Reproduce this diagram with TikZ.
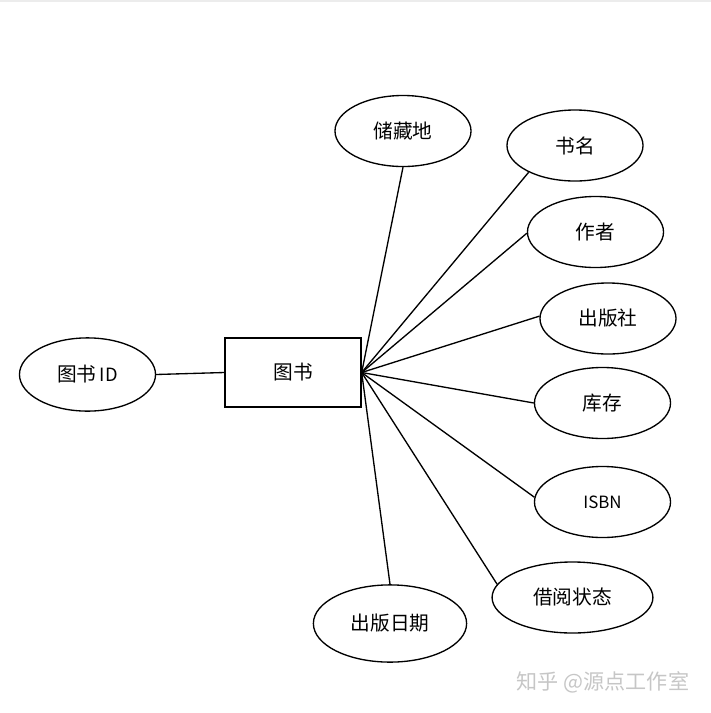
\documentclass[tikz,border=0pt]{standalone}
\usepackage{fontspec}
\setmainfont{Noto Sans CJK SC}
\usetikzlibrary{shapes.geometric, positioning}

\tikzset{
  attr/.style={ellipse, draw, line width=0.95pt, inner sep=0pt,
    minimum width=3.4cm, minimum height=1.775cm, font=\fontsize{14}{16}\selectfont},
  entity/.style={rectangle, draw, line width=0.95pt, inner sep=0pt,
    minimum width=3.4cm, minimum height=1.72cm, font=\fontsize{14}{16}\selectfont},
  link/.style={line width=0.95pt}
}

\begin{document}
\begin{tikzpicture}[x=0.025cm, y=-0.025cm]
			% Canvas
			\useasboundingbox (0,0) rectangle (711,713);
			\draw[gray!15, line width=1.2pt] (0,1) -- (711,1);
			
			% Entity
			\node[entity] (book) at (293,372.5) {图书};
			\coordinate (hub) at (book.east);
			
			% Attributes
			\node[attr, minimum height=1.83cm] (bookid) at (87.5,374.5) {图书\,{\fontsize{13}{15}\selectfont ID}};
			\node[attr] (store) at (403,131) {储藏地};
			\node[attr] (title) at (575,145.5) {书名};
			\node[attr] (author) at (595.5,232) {作者};
			\node[attr] (press) at (608,318.5) {出版社};
			\node[attr] (stock) at (602.5,403) {库存};
			\node[attr, font=\fontsize{12}{14}\selectfont] (isbn) at (602.5,502) {ISBN};
			\node[attr, minimum width=4.02cm] (status) at (572.5,597.5) {借阅状态};
			\node[attr, minimum width=3.83cm, minimum height=1.93cm] (pubdate) at (390,623.5) {出版日期};
			
			% Links
			\draw[link] (bookid.east) -- (book.west);
			\foreach \a/\ang in {store/270, title/210, author/181, press/178, stock/180, isbn/176, status/170, pubdate/90}
				\draw[link] (hub) -- (\a.\ang);
			
			% Watermark
			\node[gray!45, font=\fontsize{15}{17}\selectfont] (mark) at (603,682) {知乎 @源点工作室};
		\end{tikzpicture}
\end{document}
